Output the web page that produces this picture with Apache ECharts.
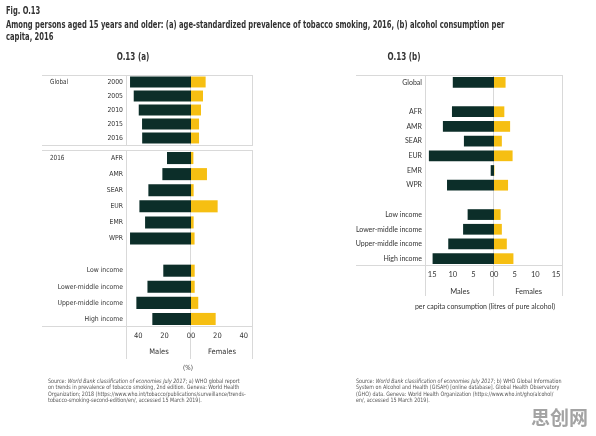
<!DOCTYPE html>
<html>
<head>
<meta charset="utf-8">
<title>Fig. O.13</title>
<script src="https://cdn.jsdelivr.net/npm/echarts@6/dist/echarts.min.js"></script>
<style>
  html, body { margin: 0; padding: 0; background: #fff; }
  #main { width: 596px; height: 436px; }
</style>
</head>
<body>
<div id="main"></div>
<script>
// (a) tobacco smoking prevalence, %
const years = ['2000', '2005', '2010', '2015', '2016'];
const globalMales = [46.2, 43.4, 39.6, 37.1, 37.0];
const globalFemales = [11.1, 9.1, 7.6, 6.1, 6.1];
const groups2016 = ['AFR', 'AMR', 'SEAR', 'EUR', 'EMR', 'WPR', ' ',
  'Low income', 'Lower-middle income', 'Upper-middle income', 'High income'];
const smokeMales = [18.2, 21.7, 32.3, 39.1, 34.8, 46.2, null, 21.0, 33.0, 41.4, 29.3];
const smokeFemales = [1.8, 12.1, 2.0, 20.2, 2.0, 2.7, null, 2.8, 2.8, 5.5, 18.7];
const smokeTicks = [0, 20, 40];

// (b) alcohol per capita, litres
const alcGroups = ['Global', ' ', 'AFR', 'AMR', 'SEAR', 'EUR', 'EMR', 'WPR', '  ',
  'Low income', 'Lower-middle income', 'Upper-middle income', 'High income'];
const alcMales = [10.0, null, 10.2, 12.4, 7.3, 15.8, 0.8, 11.4, null, 6.4, 7.5, 11.1, 14.9];
const alcFemales = [2.8, null, 2.5, 3.9, 1.9, 4.5, 0.1, 3.4, null, 1.6, 1.9, 3.1, 4.7];
const alcTicks = [0, 5, 10, 15];

const DARK = '#0c2e29', YEL = '#f6bf12', LINE = '#d9d9d9', TXT = '#333';
const NARROW = '"Liberation Sans Narrow", "DejaVu Sans Condensed", sans-serif';
const SANS = 'Lato, "Liberation Sans", sans-serif';

let chart = echarts.init(document.getElementById('main'));

function valAxis (grid, male, max, interval, ticks, showLabels, name, font, gap) {
  return {
    gridIndex: grid, type: 'value', min: 0, max: max, interval: interval, inverse: male,
    axisLine: { show: false }, axisTick: { show: false }, splitLine: { show: false },
    axisLabel: {
      show: showLabels, color: TXT, fontFamily: font, fontSize: 7.5, margin: 5,
      alignMinLabel: male ? 'right' : 'left',
      formatter: v => ticks.includes(v) ? String(v) : ''
    },
    name: name, nameLocation: 'middle', nameGap: gap,
    nameTextStyle: { color: TXT, fontFamily: font, fontSize: 7.5 }
  };
}

function catAxis (grid, data, show, font, size) {
  return {
    gridIndex: grid, type: 'category', data: data, inverse: true, show: show,
    axisLine: { show: false }, axisTick: { show: false },
    axisLabel: { margin: 4, color: TXT, fontFamily: font, fontSize: size }
  };
}

function bars (idx, data, color, gap) {
  return {
    type: 'bar', xAxisIndex: idx, yAxisIndex: idx, data: data,
    barCategoryGap: gap, itemStyle: { color: color }, silent: true
  };
}

function hline (x1, x2, y) {
  return { type: 'line', z: -1, shape: { x1: x1, y1: y + 0.5, x2: x2, y2: y + 0.5 }, style: { stroke: LINE, lineWidth: 1 } };
}
function vline (x, y1, y2) {
  return { type: 'line', z: -1, shape: { x1: x + 0.5, y1: y1, x2: x + 0.5, y2: y2 }, style: { stroke: LINE, lineWidth: 1 } };
}
// text with horizontal squeeze to imitate the condensed face of the original
function txt (x, y, text, font, sx, align) {
  return {
    type: 'text', x: x, y: y, scaleX: sx || 1,
    style: { text: text, fill: TXT, font: font, textAlign: align || 'left', textVerticalAlign: 'middle' }
  };
}
function src (x, y, text) {
  return {
    type: 'text', x: x, y: y, scaleX: 0.89,
    style: {
      text: text, fill: '#555', font: '6px ' + NARROW, textVerticalAlign: 'middle',
      rich: { i: { fontStyle: 'italic', fontSize: 6, fontFamily: NARROW, fill: '#555' } }
    }
  };
}

const BOLD10 = 'bold 10px ' + NARROW;

chart.setOption({
  animation: false,
  grid: [
    { left: 127, top: 75, width: 64, height: 70 },
    { left: 191, top: 75, width: 62, height: 70 },
    { left: 127, top: 150, width: 64, height: 177 },
    { left: 191, top: 150, width: 62, height: 177 },
    { left: 426, top: 75, width: 68, height: 191 },
    { left: 494, top: 75, width: 69, height: 191 }
  ],
  xAxis: [
    valAxis(0, true, 48.5, 20, smokeTicks, false, '', NARROW, 0),
    valAxis(1, false, 47, 20, smokeTicks, false, '', NARROW, 0),
    valAxis(2, true, 48.5, 20, smokeTicks, true, 'Males', NARROW, 21),
    valAxis(3, false, 47, 20, smokeTicks, true, 'Females', NARROW, 21),
    valAxis(4, true, 16.5, 5, alcTicks, true, 'Males', SANS, 22),
    valAxis(5, false, 16.7, 5, alcTicks, true, 'Females', SANS, 22)
  ],
  yAxis: [
    catAxis(0, years, true, NARROW, 6.8),
    catAxis(1, years, false, NARROW, 6.8),
    catAxis(2, groups2016, true, NARROW, 6.8),
    catAxis(3, groups2016, false, NARROW, 6.8),
    catAxis(4, alcGroups, true, SANS, 7),
    catAxis(5, alcGroups, false, SANS, 7)
  ],
  series: [
    bars(0, globalMales, DARK, '22%'),
    bars(1, globalFemales, YEL, '22%'),
    bars(2, smokeMales, DARK, '25%'),
    bars(3, smokeFemales, YEL, '25%'),
    bars(4, alcMales, DARK, '27%'),
    bars(5, alcFemales, YEL, '27%')
  ],
  graphic: [
    // panel frames
    hline(42, 253, 75), hline(42, 253, 145), hline(42, 253, 150), hline(42, 253, 326),
    vline(126, 75, 145), vline(190, 75, 145), vline(252, 75, 145),
    vline(126, 150, 359), vline(190, 150, 359), vline(252, 150, 359),
    hline(356, 563, 75), hline(356, 563, 265),
    vline(425, 75, 296), vline(493, 75, 296), vline(562, 75, 296),
    // titles
    txt(6, 11, 'Fig. O.13', BOLD10, 0.75),
    txt(6, 25, 'Among persons aged 15 years and older: (a) age-standardized prevalence of tobacco smoking, 2016, (b) alcohol consumption per', BOLD10, 0.755),
    txt(6, 37, 'capita, 2016', BOLD10, 0.755),
    txt(133, 57, 'O.13 (a)', BOLD10, 0.8, 'center'),
    txt(404, 57, 'O.13 (b)', BOLD10, 0.8, 'center'),
    // group labels
    txt(50, 82, 'Global', '7px ' + NARROW, 0.9),
    txt(50, 158, '2016', '7px ' + NARROW, 0.9),
    txt(188, 368, '(%)', '7px ' + NARROW, 0.9, 'center'),
    txt(485, 307, 'per capita consumption (litres of pure alcohol)', '7px ' + SANS, 1, 'center'),
    // sources
    src(48, 381, 'Source: {i|World Bank classification of economies July 2017}; a) WHO global report'),
    src(48, 387.5, 'on trends in prevalence of tobacco smoking, 2nd edition. Geneva: World Health'),
    src(48, 394, 'Organization; 2018 (https://www.who.int/tobacco/publications/surveillance/trends-'),
    src(48, 400.5, 'tobacco-smoking-second-edition/en/, accessed 15 March 2019).'),
    src(356, 381, 'Source: {i|World Bank classification of economies July 2017}; b) WHO Global Information'),
    src(356, 387.5, 'System on Alcohol and Health (GISAH) [online database]. Global Health Observatory'),
    src(356, 394, '(GHO) data. Geneva: World Health Organization (https://www.who.int/gho/alcohol/'),
    src(356, 400.5, 'en/, accessed 15 March 2019).'),
    // watermark
    { type: 'text', x: 531, y: 418, style: { text: '思创网', fill: '#a3a3a3', font: 'bold 19px "Noto Sans CJK SC"', textVerticalAlign: 'middle' } }
  ]
});
</script>
</body>
</html>
